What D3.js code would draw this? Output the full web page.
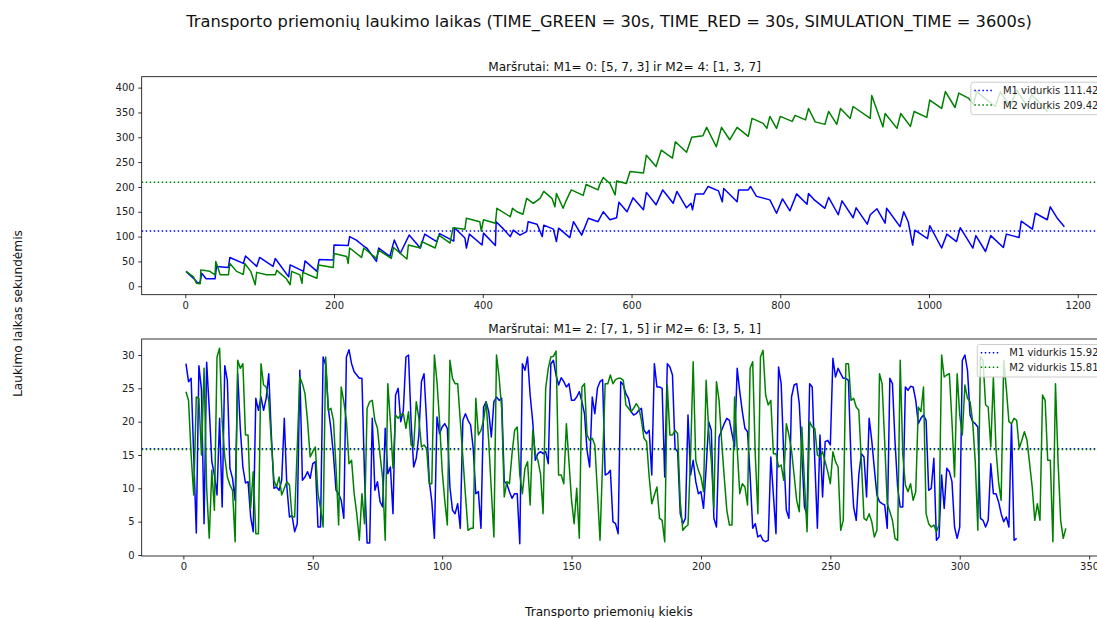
<!DOCTYPE html>
<html><head><meta charset="utf-8">
<script src="https://cdn.jsdelivr.net/npm/d3@7"></script>
<style>
html,body{margin:0;padding:0;overflow:hidden;background:#fff;}
svg{display:block;font-family:"DejaVu Sans",sans-serif;}
</style></head><body>
<svg id="chart" width="1218" height="618"></svg>
<script>
const figTitle = "Transporto priemonių laukimo laikas (TIME_GREEN = 30s, TIME_RED = 30s, SIMULATION_TIME = 3600s)";
const subTitles = ["Maršrutai: M1= 0: [5, 7, 3] ir M2= 4: [1, 3, 7]", "Maršrutai: M1= 2: [7, 1, 5] ir M2= 6: [3, 5, 1]"];
const xLabel = "Transporto priemonių kiekis";
const yLabel = "Laukimo laikas sekundėmis";

const topXTicks = [0, 200, 400, 600, 800, 1000, 1200];
const topYTicks = [0, 50, 100, 150, 200, 250, 300, 350, 400];
const botXTicks = [0, 50, 100, 150, 200, 250, 300, 350];
const botYTicks = [0, 5, 10, 15, 20, 25, 30];

const topMeans = [111.42, 209.42];
const botMeans = [15.92, 15.81];
const topLegend = ["M1 vidurkis 111.42", "M2 vidurkis 209.42"];
const botLegend = ["M1 vidurkis 15.92", "M2 vidurkis 15.81"];

// Top panel, M1 (blue): vehicle index and waiting time read at the turning points
const topM1X = [1,6,13,17,20,22,28,40,42,58,60,78,81,96,100,118,121,139,141,159,161,177,180,199,200,219,221,230,239,244,257,260,275,281,289,301,316,322,338,342,361,362,376,378,382,399,401,417,418,428,437,441,450,459,461,473,480,482,495,499,502,517,522,533,542,555,562,571,580,583,594,602,616,620,633,642,656,661,674,680,682,686,697,703,717,722,724,742,744,757,760,768,786,795,803,813,822,836,838,845,860,865,878,883,898,902,917,921,930,941,943,961,966,972,978,981,998,1001,1017,1024,1037,1042,1059,1063,1076,1083,1100,1104,1121,1124,1139,1143,1159,1163,1172,1182];
const topM1Y = [30,23,13,6,8,26,15,15,40,38,58,46,61,40,58,40,56,19,43,30,51,30,54,53,83,82,100,93,82,77,50,77,60,93,66,103,77,105,90,106,91,118,97,77,105,83,107,82,130,115,100,113,103,110,130,125,100,123,115,90,117,98,130,103,137,130,150,134,138,169,150,178,154,189,164,194,167,191,158,167,154,186,186,201,192,170,197,170,194,194,201,181,174,147,176,152,186,165,187,175,157,179,144,172,138,158,125,144,156,127,157,120,150,130,83,113,96,122,77,105,90,118,77,102,70,102,78,105,98,131,115,147,134,160,138,120];

// Top panel, M2 (green)
const topM2X = [1,11,15,20,21,33,40,41,47,58,60,69,78,80,88,94,96,109,121,123,136,141,143,154,157,158,177,179,199,200,217,219,221,237,240,257,260,277,280,298,300,316,318,336,341,356,360,376,378,396,398,401,417,419,437,440,446,454,459,468,477,482,493,497,499,508,512,519,535,539,555,557,562,571,578,580,593,598,616,620,633,640,655,659,674,681,696,701,714,721,732,742,757,762,777,782,786,795,800,816,820,834,838,847,860,865,876,881,894,898,921,923,934,938,941,957,962,975,980,997,1001,1017,1022,1035,1040,1053,1060,1064,1089,1096,1109,1118,1132,1138,1160];
const topM2Y = [30,19,6,5,33,30,23,50,23,23,46,30,24,46,30,3,28,23,23,32,15,3,30,23,6,28,16,43,38,66,60,46,77,58,77,56,73,56,78,55,83,77,90,77,103,87,118,115,137,130,111,134,127,157,140,157,150,145,177,167,177,191,177,160,187,157,172,194,183,205,194,204,219,207,184,212,207,231,228,264,241,274,258,291,270,300,303,320,281,320,295,320,302,338,328,318,342,318,342,332,344,335,358,331,326,352,326,358,338,362,338,384,338,321,348,318,348,322,352,340,375,358,392,360,389,379,366,392,362,392,362,395,362,386,351];

// Bottom panel, one value per vehicle (vehicle 1, 2, 3, ...)
const botM1 = [
28.7,26,26.5,15,3.3,28.4,24.8,4.7,28.9,22,
14,12,9,20.5,7.2,28.4,26.2,13,11.5,8.2,
27.2,19,13.2,10.8,11,5.7,3.5,23.5,21.7,23.7,
21.7,23.5,27.2,18,10,10.2,9.7,11.2,20.5,10.2,
5.7,5.9,3.5,4.7,27.7,11.2,11.7,12.5,11.5,13.7,
14,4.2,4.2,29.7,28.5,22,19,15,9.7,9.2,
8.2,5.5,29.7,30.8,28.7,27.5,27,26.5,26.5,12,
1.8,1.8,20.5,9.7,11,8,7.2,19,12.2,13.2,
6.2,24,25,20,21.7,29.7,30,20,13.2,14.5,
18,26,27.2,20,11.2,8,2.5,20.7,18.2,19.2,
19.7,19,10.2,6.7,6.2,7.7,4,20.2,21.2,20.2,
19.5,16,9.2,9.5,4,22.2,23,21.5,17.7,23,
23.7,23.2,23.5,11,10.7,9.5,8.5,9.2,9.2,1.7,
28.7,27.7,29.7,24,20,14.2,15.2,15.5,15.2,15.5,
13.7,28.7,29.2,27,25.5,26.6,26,25.2,25.7,23.2,
23.2,23.7,24.5,23,21.2,15.7,13.2,23.7,21.2,25,
26,26.3,12,12.2,12.7,5,4.7,3.2,26,25.5,
24.2,23.5,21.5,21,21.2,21.7,22,18.7,18.2,18.7,
12,28.7,25.2,25.2,25,11.7,28.7,28.2,27,16,
15.5,6.2,4.7,5.5,21,12,14.2,11,9.2,9.5,
7,13,20,18.7,5.5,4.2,17.7,18.7,19.7,20.5,
20.2,18.2,16.2,28,24.5,21.5,19,18.5,12,4,
4.7,2.7,3,2.2,2,2.2,14.7,9,3.2,28.2,
25.7,15,6.7,5.5,23.7,25.5,25.7,22.7,15,7.2,
6,25.7,25.2,14,4,18,8.7,17,17.2,16.5,
29.5,26.7,28,27.2,26.5,26.5,26.2,14,7.2,5.2,
12,15.2,14.7,8.7,20.5,17.2,13,9,8,7.7,
7.5,4,26.5,25.7,17,10.2,7.2,7.2,25.2,24.7,
25.3,25.2,23.2,19.7,20.5,21,20.2,9.7,10,14.5,
2.2,2.7,12,7,13,12.5,11,4.2,2.5,4.2,
29.2,30,27.7,21,20,19.7,19.2,5.5,5.2,4.2,
5.2,13.7,9.2,9.2,8,6.2,5,5.7,4.2,19.7,
2.2,2.5];
const botM2 = [
24.5,23.2,15,9,23.7,23.5,15,28,10,2.5,
12.7,6.7,29.7,31,20,14.7,11.7,10.5,9.7,2,
29.2,28,28.7,18,18,7,12.5,3.2,3.2,28.7,
25.5,25.2,23.2,17,11.2,10.2,11.7,9,10,11,
10.5,5.7,5.7,16,26.7,25.7,24.2,20,14.7,15.5,
16.2,9.2,7,4.2,29.7,21.7,22,20.2,13,4.5,
25.2,23,20.2,13.7,14.2,9.2,6.2,2.2,9.2,4.7,
22,23,23.2,20.2,19,15,11.5,2.2,25.7,20,
13,21,20.5,21,21.2,19,21.5,16.5,16.2,23,
20.5,16.2,16.5,16,10.7,10.7,30,26,20,12.7,
8.2,4.5,29.2,26.5,25.7,25.7,20.2,14.7,9,3.7,
4,4,23.5,18,18.7,20.2,23,17,9.7,2.7,
30,26.7,22,8.7,11,10.7,15.2,18.7,19.2,12,
9.2,13,14,7.5,18.7,15.2,14.2,12.2,6.2,25,
28,29.7,29.8,30.6,12,12,10.7,19.7,14,8.2,
4.7,10,2.5,25.2,25.7,18,17.2,17.5,16.5,9.5,
2.2,14,25.7,25.7,27,25.7,26.3,26.5,26.5,26.2,
22.5,22,21.5,22,22.7,22.1,20.2,17.5,17,11.7,
7.7,9,10.2,5.5,5.2,2,25.5,18,18,18.7,
18.2,8,3.7,4.2,4.5,15,29,14.2,12.7,11.7,
9.5,26.2,18.7,14.2,7,26,23.2,17,11.7,6.7,
4.5,4.5,23.7,16,9.2,10.7,10.2,7.5,28,29,
15,6.2,29.7,30.7,24,22.5,23.2,15.2,15.2,13.2,
13.5,11.2,19.7,18,15.7,12,8.2,6.5,19.2,11,
3.5,20,19.2,19,15,14.7,15.5,14,12.5,10.7,
15.5,14,13.2,3.7,5.2,28.7,28.7,23.2,23.5,22.2,
21.7,14,5.5,5.2,6.2,5,2.7,3.7,27.2,25.7,
17,7.7,6.5,5.2,2.5,2.2,29.2,15,10.5,9.5,
10.7,8.2,9.5,22.2,21.5,25.2,6.2,4.7,4.2,4.5,
3.5,4.5,30,26.7,27,27.2,20,11.7,27.2,21,
18,25.5,23.5,23,20,14,3.7,29.7,29.2,22.5,
22.2,16.2,26.7,16,11,8.2,29.2,25,20,19.7,
20.5,20.2,16,17.2,18.5,17.2,13.7,10.2,5.2,7.7,
5.2,24,23.2,14.2,14.2,2,25.7,14,5.2,2.5,
4];

const colors = ["blue", "green"];
const svg = d3.select("#chart");
const L = 141.7, R = 1107.5;

const panels = [
  {top: 76.7, bottom: 294.7, xDom: [-58.6, 1240], yDom: [-17, 422], xTicks: topXTicks, yTicks: topYTicks,
   series: [topM1X.map((v, i) => [v, topM1Y[i]]), topM2X.map((v, i) => [v, topM2Y[i]])],
   means: topMeans, legend: topLegend, title: subTitles[0]},
  {top: 339, bottom: 556, xDom: [-16.1, 357.1], yDom: [-0.15, 32.4], xTicks: botXTicks, yTicks: botYTicks,
   series: [botM1.map((v, i) => [i + 1, v]), botM2.map((v, i) => [i + 1, v])],
   means: botMeans, legend: botLegend, title: subTitles[1]}
];

function fitText(sel, base, target) {
  const w = sel.node().getComputedTextLength();
  sel.attr("font-size", (base * target / w).toFixed(2));
}

panels.forEach((p, k) => {
  const x = d3.scaleLinear().domain(p.xDom).range([L, R]);
  const y = d3.scaleLinear().domain(p.yDom).range([p.bottom, p.top]);
  const g = svg.append("g");
  g.append("clipPath").attr("id", "clip" + k).append("rect")
    .attr("x", L).attr("y", p.top).attr("width", R - L).attr("height", p.bottom - p.top);
  const plot = g.append("g").attr("clip-path", `url(#clip${k})`);
  const line = d3.line().x(d => x(d[0])).y(d => y(d[1]));
  p.series.forEach((s, j) => {
    plot.append("path").datum(s).attr("d", line)
      .attr("fill", "none").attr("stroke", colors[j]).attr("stroke-width", 1.5)
      .attr("stroke-linejoin", "round");
    plot.append("line").attr("x1", L).attr("x2", R)
      .attr("y1", y(p.means[j])).attr("y2", y(p.means[j]))
      .attr("stroke", colors[j]).attr("stroke-width", 1.5).attr("stroke-dasharray", "1.5,2.5");
  });

  const xa = g.append("g").attr("transform", `translate(0,${p.bottom})`)
    .call(d3.axisBottom(x).tickValues(p.xTicks).tickSize(3.5).tickPadding(3.5).tickFormat(d3.format("d")));
  const ya = g.append("g").attr("transform", `translate(${L},0)`)
    .call(d3.axisLeft(y).tickValues(p.yTicks).tickSize(3.5).tickPadding(3.5).tickFormat(d3.format("d")));
  [xa, ya].forEach(a => {
    a.select(".domain").remove();
    a.selectAll(".tick line").attr("stroke", "#000").attr("stroke-width", 0.8);
    a.selectAll(".tick text").attr("font-family", "DejaVu Sans").attr("font-size", 10).attr("fill", "#222");
  });

  g.append("rect").attr("x", L).attr("y", p.top).attr("width", R - L).attr("height", p.bottom - p.top)
    .attr("fill", "none").attr("stroke", "#000").attr("stroke-width", 0.8);

  const t = g.append("text").attr("x", (L + R) / 2).attr("y", p.top - 6)
    .attr("text-anchor", "middle").attr("font-size", 12).attr("fill", "#111").text(p.title);
  fitText(t, 12, 273);

  // legend
  const lg = g.append("g");
  const texts = p.legend.map(s => lg.append("text").attr("font-size", 10).attr("fill", "#222").text(s));
  const tw = d3.max(texts, t => t.node().getComputedTextLength());
  const boxR = R - 5, boxT = p.top + 5.5;
  const boxW = 3.5 + 20 + 8.5 + tw + 4;
  const boxL = boxR - boxW;
  lg.insert("rect", "text").attr("x", boxL).attr("y", boxT).attr("width", boxW).attr("height", 32.5)
    .attr("rx", 2.5).attr("fill", "#fff").attr("fill-opacity", 0.8).attr("stroke", "#cccccc").attr("stroke-width", 1);
  p.legend.forEach((s, j) => {
    const cy = boxT + 8.3 + j * 14.5;
    lg.insert("line", "text").attr("x1", boxL + 3.5).attr("x2", boxL + 23.5).attr("y1", cy).attr("y2", cy)
      .attr("stroke", colors[j]).attr("stroke-width", 1.5).attr("stroke-dasharray", "1.5,2.5");
    texts[j].attr("x", boxL + 32).attr("y", cy + 3.6);
  });
});

const st = svg.append("text").attr("x", 609).attr("y", 27).attr("text-anchor", "middle")
  .attr("font-size", 16).attr("fill", "#111").text(figTitle);
fitText(st, 16, 846);
const xl = svg.append("text").attr("x", 609).attr("y", 615.5).attr("text-anchor", "middle")
  .attr("font-size", 12).attr("fill", "#111").text(xLabel);
fitText(xl, 12, 168);
const yl = svg.append("text").attr("transform", "translate(21.5,313.5) rotate(-90)").attr("text-anchor", "middle")
  .attr("font-size", 12).attr("fill", "#111").text(yLabel);
fitText(yl, 12, 167);
</script>
</body></html>
